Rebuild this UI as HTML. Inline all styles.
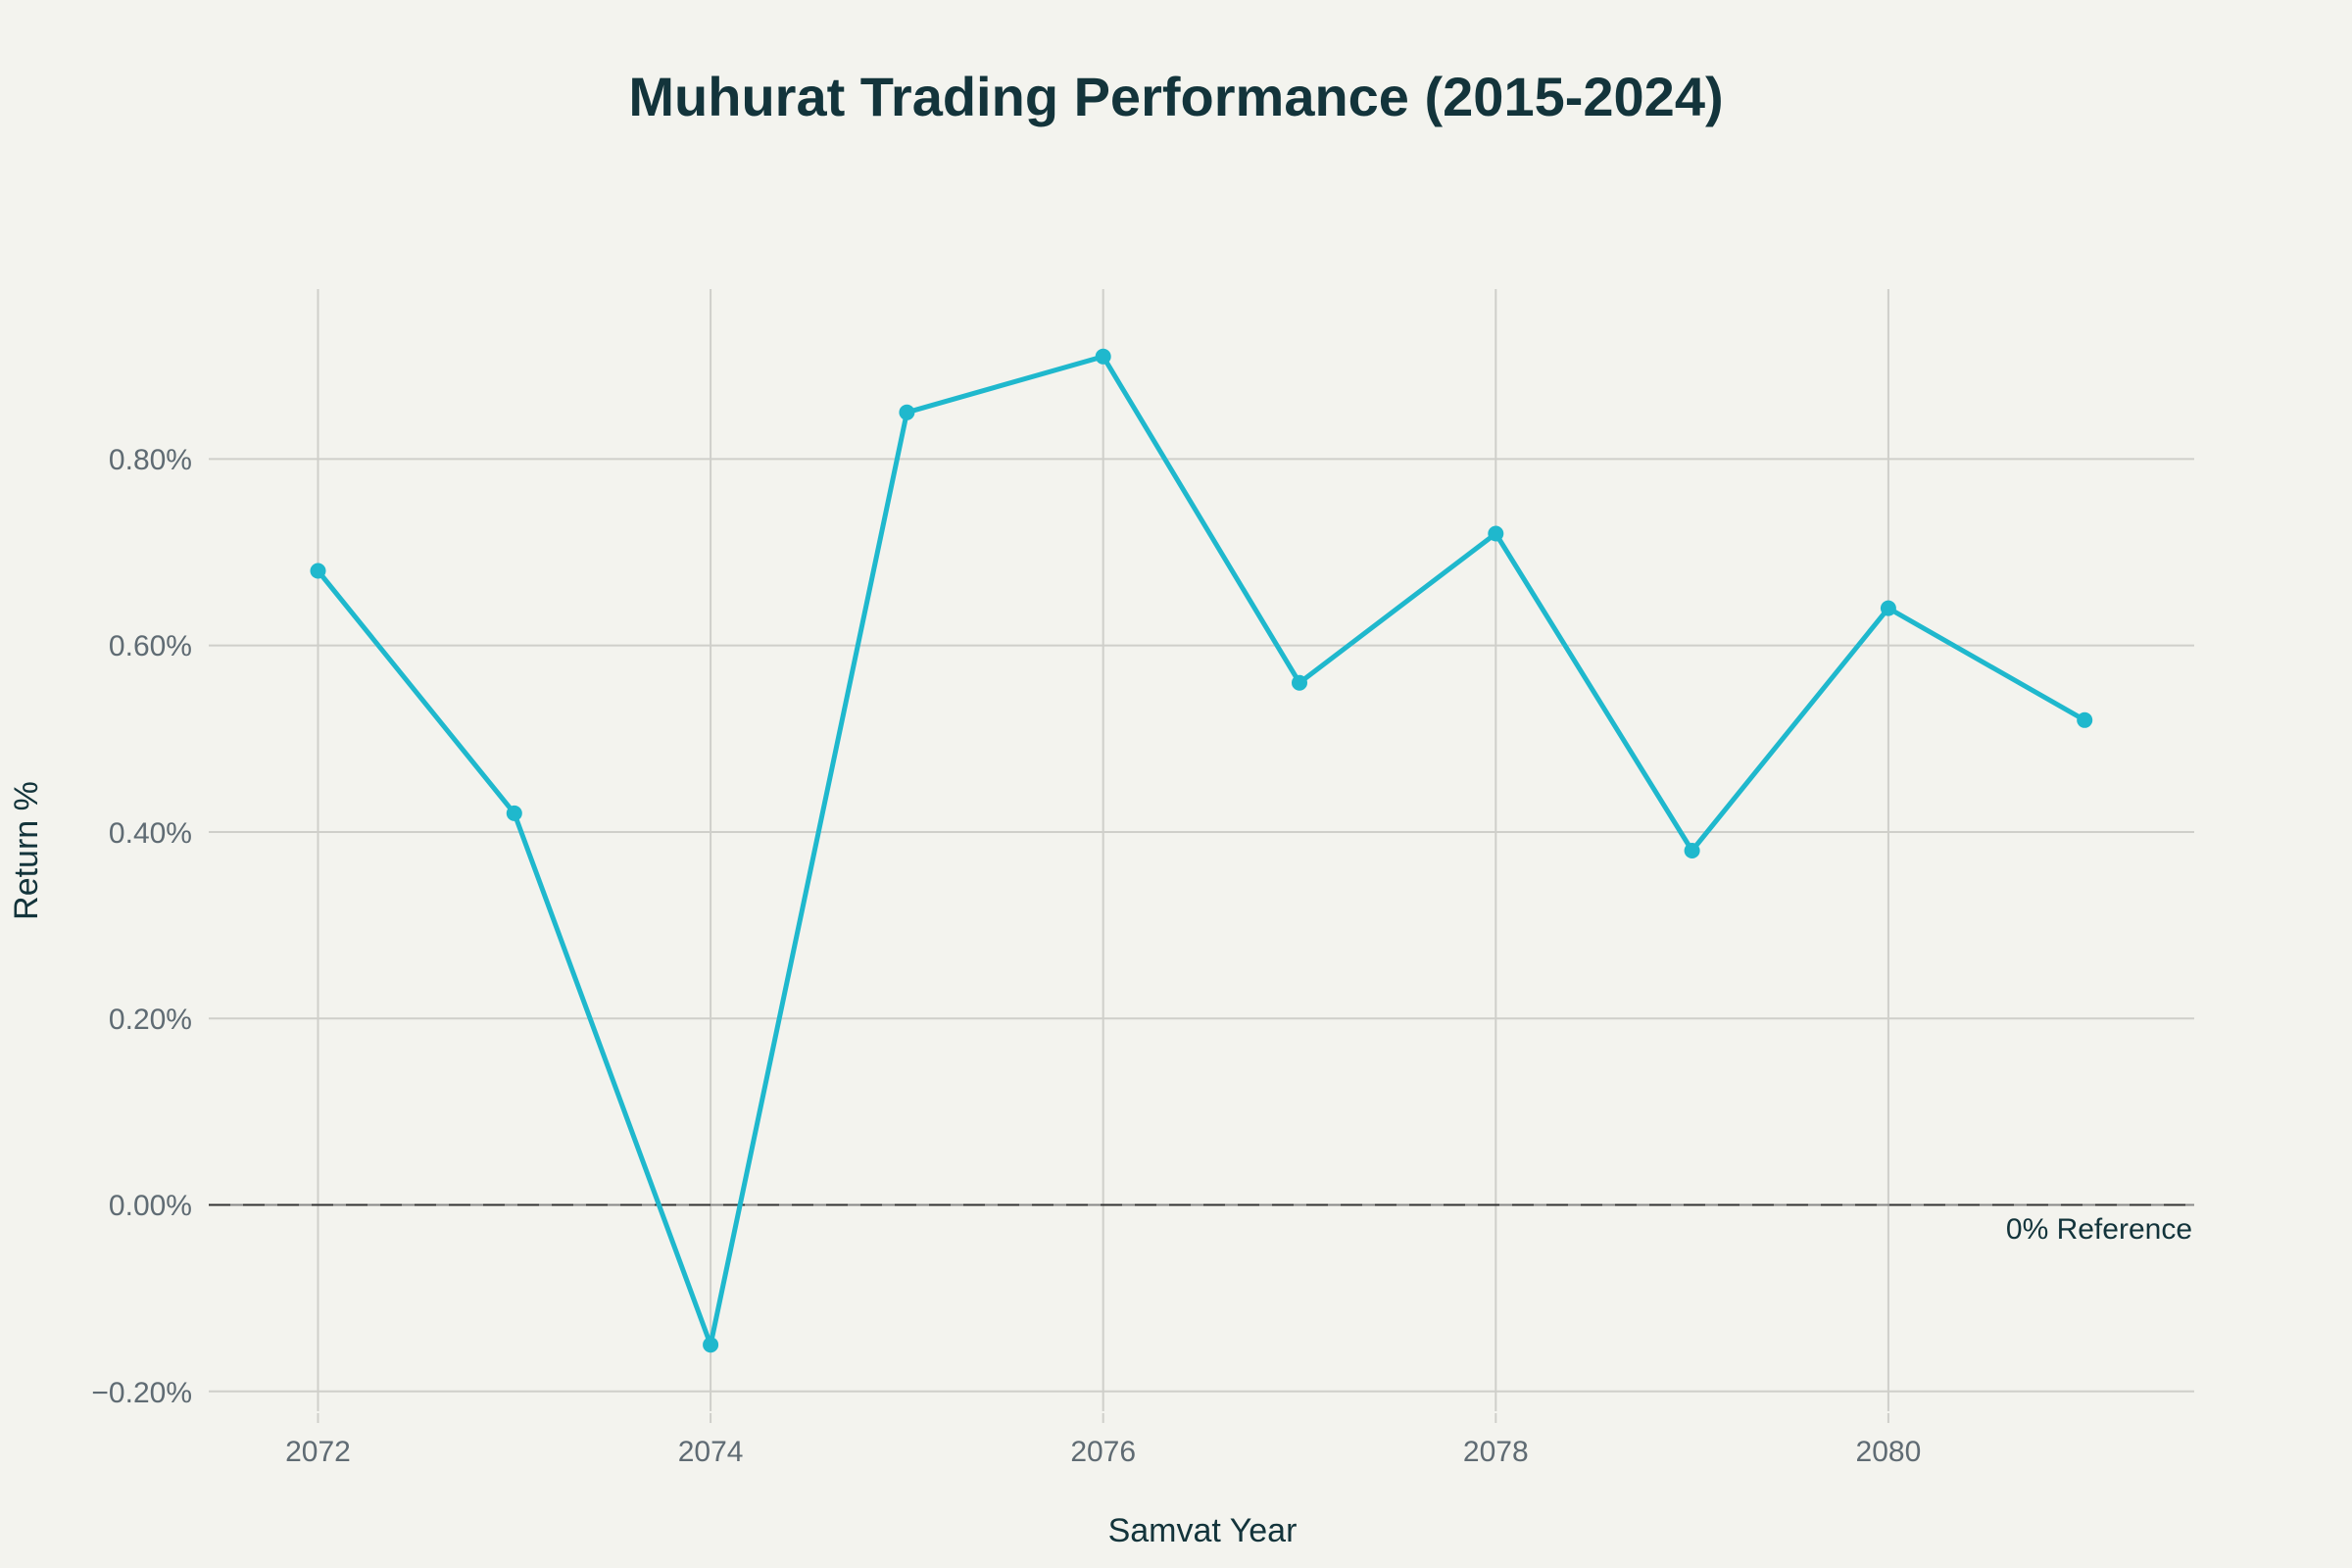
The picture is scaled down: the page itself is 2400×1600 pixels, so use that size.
<!DOCTYPE html>
<html><head><meta charset="utf-8"><style>
html,body{margin:0;padding:0;background:#f3f3ee;}
svg{display:block;font-family:"Liberation Sans",sans-serif;}
</style></head><body>
<svg width="2400" height="1600" viewBox="0 0 2400 1600" xmlns="http://www.w3.org/2000/svg">
<rect width="2400" height="1600" fill="#f3f3ee"/>
<text x="1200" y="118" text-anchor="middle" font-size="56" font-weight="bold" fill="#13343b">Muhurat Trading Performance (2015-2024)</text>
<g stroke="#cfcfca" stroke-width="2">
<line x1="324.5" y1="295" x2="324.5" y2="1440"/>
<line x1="725.1" y1="295" x2="725.1" y2="1440"/>
<line x1="1125.7" y1="295" x2="1125.7" y2="1440"/>
<line x1="1526.3" y1="295" x2="1526.3" y2="1440"/>
<line x1="1926.9" y1="295" x2="1926.9" y2="1440"/>
<line x1="213" y1="468.4" x2="2239" y2="468.4"/>
<line x1="213" y1="658.6" x2="2239" y2="658.6"/>
<line x1="213" y1="849" x2="2239" y2="849"/>
<line x1="213" y1="1039.2" x2="2239" y2="1039.2"/>
<line x1="213" y1="1419.8" x2="2239" y2="1419.8"/>
<line x1="324.5" y1="1442" x2="324.5" y2="1452"/>
<line x1="725.1" y1="1442" x2="725.1" y2="1452"/>
<line x1="1125.7" y1="1442" x2="1125.7" y2="1452"/>
<line x1="1526.3" y1="1442" x2="1526.3" y2="1452"/>
<line x1="1926.9" y1="1442" x2="1926.9" y2="1452"/>
</g>
<line x1="213" y1="1229.5" x2="2239" y2="1229.5" stroke="#888" stroke-width="2"/>
<line x1="213" y1="1229.5" x2="2239" y2="1229.5" stroke="#333" stroke-width="2" stroke-dasharray="22,13"/>
<g font-size="30" fill="#5f6b73" text-anchor="end">
<text x="196" y="479">0.80%</text>
<text x="196" y="669">0.60%</text>
<text x="196" y="860">0.40%</text>
<text x="196" y="1050">0.20%</text>
<text x="196" y="1240">0.00%</text>
<text x="196" y="1431">−0.20%</text>
</g>
<g font-size="30" fill="#5f6b73" text-anchor="middle">
<text x="324.5" y="1491">2072</text>
<text x="725.1" y="1491">2074</text>
<text x="1125.7" y="1491">2076</text>
<text x="1526.3" y="1491">2078</text>
<text x="1926.9" y="1491">2080</text>
</g>
<text x="1227" y="1573" text-anchor="middle" font-size="34" fill="#13343b">Samvat Year</text>
<text transform="translate(38,868) rotate(-90)" text-anchor="middle" font-size="34" fill="#13343b">Return %</text>
<text x="2237" y="1264" text-anchor="end" font-size="30" fill="#13343b">0% Reference</text>
<polyline fill="none" stroke="#1fb8cd" stroke-width="5" stroke-linejoin="round" points="324.5,582.5 524.8,829.9 725.1,1372.2 925.4,420.8 1125.7,363.8 1326,696.7 1526.3,544.5 1726.6,868 1926.9,620.6 2127.2,734.8"/>
<g fill="#1fb8cd">
<circle cx="324.5" cy="582.5" r="8"/><circle cx="524.8" cy="829.9" r="8"/><circle cx="725.1" cy="1372.2" r="8"/><circle cx="925.4" cy="420.8" r="8"/><circle cx="1125.7" cy="363.8" r="8"/><circle cx="1326" cy="696.7" r="8"/><circle cx="1526.3" cy="544.5" r="8"/><circle cx="1726.6" cy="868" r="8"/><circle cx="1926.9" cy="620.6" r="8"/><circle cx="2127.2" cy="734.8" r="8"/>
</g>
</svg>
</body></html>
